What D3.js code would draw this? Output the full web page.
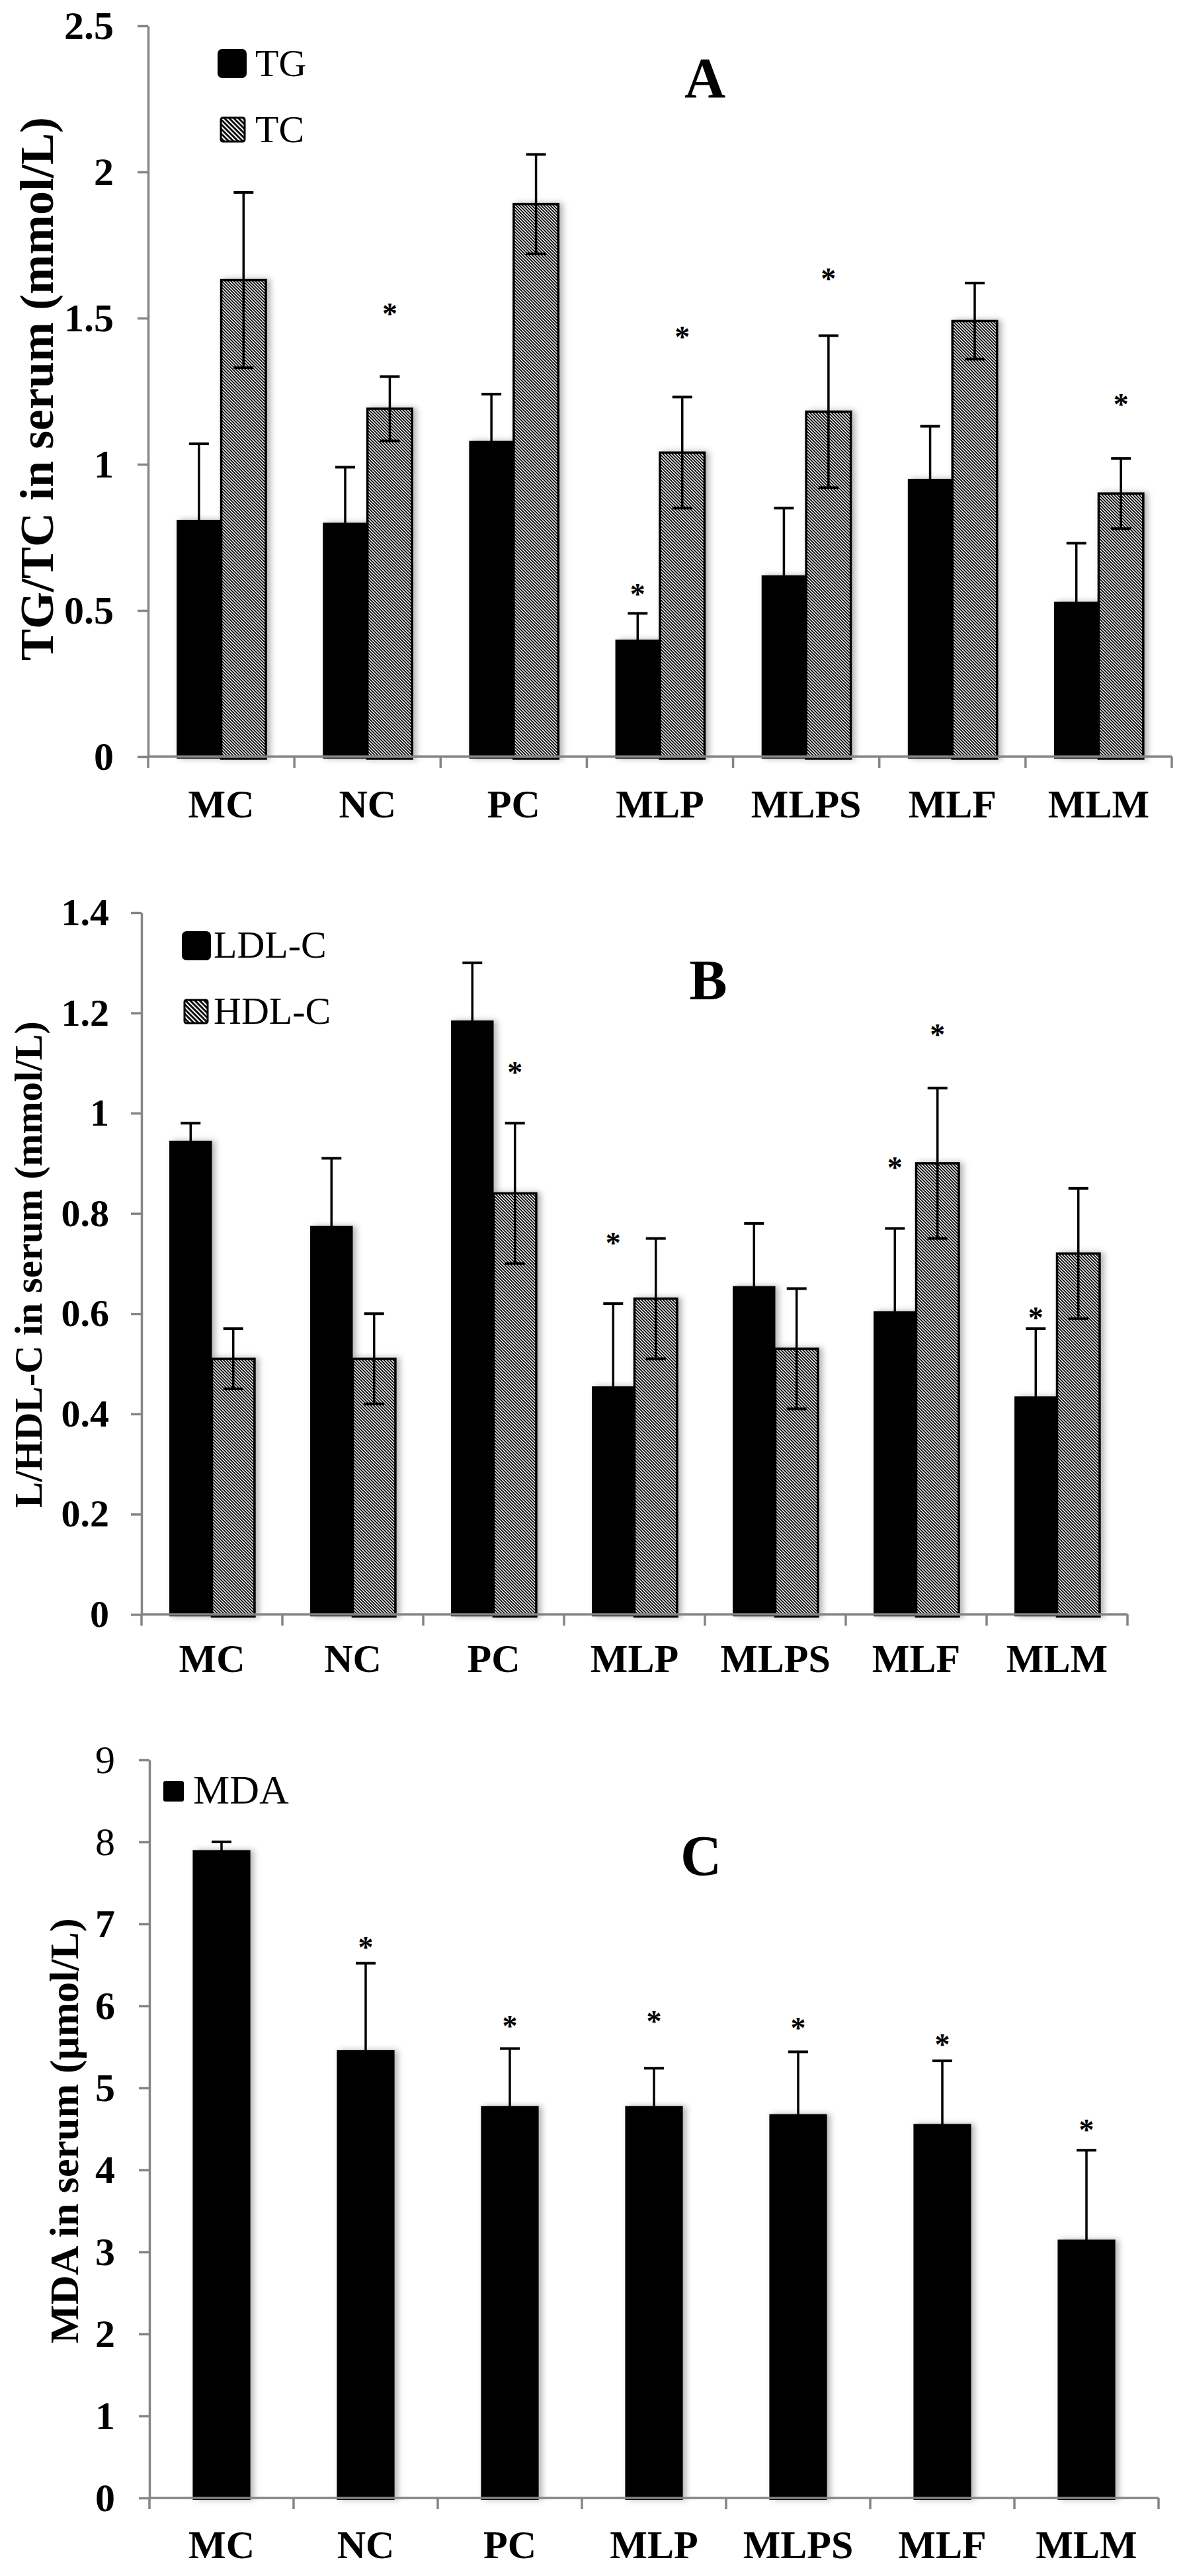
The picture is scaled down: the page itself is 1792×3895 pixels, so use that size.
<!DOCTYPE html>
<html>
<head>
<meta charset="utf-8">
<script src="https://cdn.jsdelivr.net/npm/d3@7"></script>
<style>
  body { margin: 0; background: #fff; }
  svg { display: block; }
</style>
</head>
<body>
<div id="container"></div>
<script>
/* DATA */
const categories = ["MC", "NC", "PC", "MLP", "MLPS", "MLF", "MLM"];

// panel A
const tgMean = [0.81, 0.80, 1.08, 0.40, 0.62, 0.95, 0.53];
const tgSd = [0.26, 0.19, 0.16, 0.09, 0.23, 0.18, 0.20];
const tcMean = [1.63, 1.19, 1.89, 1.04, 1.18, 1.49, 0.90];
const tcSd = [0.30, 0.11, 0.17, 0.19, 0.26, 0.13, 0.12];
const tgStar = [null, null, null, 0.57, null, null, null];
const tcStar = [null, 1.53, null, 1.45, 1.65, null, 1.22];
const ticksA = [0, 0.5, 1, 1.5, 2, 2.5];

// panel B
const ldlMean = [0.945, 0.775, 1.185, 0.455, 0.655, 0.605, 0.435];
const ldlSd = [0.035, 0.135, 0.115, 0.165, 0.125, 0.165, 0.135];
const hdlMean = [0.51, 0.51, 0.84, 0.63, 0.53, 0.90, 0.72];
const hdlSd = [0.06, 0.09, 0.14, 0.12, 0.12, 0.15, 0.13];
const ldlStar = [null, null, null, 0.75, null, 0.90, 0.60];
const hdlStar = [null, null, 1.09, null, null, 1.165, null];
const ticksB = [0, 0.2, 0.4, 0.6, 0.8, 1, 1.2, 1.4];

// panel C
const mdaMean = [7.90, 5.46, 4.78, 4.78, 4.68, 4.56, 3.15];
const mdaSd = [0.10, 1.06, 0.70, 0.46, 0.76, 0.77, 1.09];
const mdaStar = [null, 6.77, 5.81, 5.86, 5.78, 5.58, 4.54];
const ticksC = [0, 1, 2, 3, 4, 5, 6, 7, 8, 9];

/* CONSTANTS */
const width = 1792, height = 3895;
const FONT = "'Liberation Serif', 'Times New Roman', serif";
const AXIS_GREY = "#858585";

const svg = d3.select("#container")
  .append("svg")
  .attr("width", width)
  .attr("height", height);

svg.append("rect").attr("width", width).attr("height", height).attr("fill", "#fff");

const defs = svg.append("defs");

// hatch used inside bars
function hatch(id, size, stripe) {
  const p = defs.append("pattern")
    .attr("id", id)
    .attr("patternUnits", "userSpaceOnUse")
    .attr("width", size)
    .attr("height", size)
    .attr("patternTransform", "rotate(-45)");
  p.append("rect").attr("width", size).attr("height", size).attr("fill", "#000");
  p.append("rect").attr("width", stripe).attr("height", size).attr("fill", "#fff");
}
hatch("hatchBar", 3.3, 1.5);
hatch("hatchKey", 5, 2.2);

defs.append("filter")
  .attr("id", "shadow")
  .attr("x", "-20%").attr("y", "-5%").attr("width", "150%").attr("height", "110%")
  .append("feDropShadow")
  .attr("dx", 5).attr("dy", 0).attr("stdDeviation", 5)
  .attr("flood-color", "#000").attr("flood-opacity", 0.3);

// DRAW ONE PANEL
function drawPanel(p) {
  const g = svg.append("g");

  const y = d3.scaleLinear().domain([0, p.max]).range([p.y0, p.yTop]);
  const x = d3.scaleBand().domain(categories).range([p.x0, p.x1]).padding(0);
  const names = p.series.map(s => s.name);
  const groupW = x.bandwidth() * p.groupFrac;
  const xs = d3.scaleBand().domain(names).range([-groupW / 2, groupW / 2]).padding(0);

  // bars
  p.series.forEach(s => {
    const rows = categories.map((c, i) => ({ c, v: s.mean[i], sd: s.sd[i], star: s.star[i] }));
    const cx = d => x(d.c) + x.bandwidth() / 2 + xs(s.name);

    g.selectAll(null)
      .data(rows)
      .join("rect")
      .attr("x", d => cx(d))
      .attr("y", d => y(d.v))
      .attr("width", xs.bandwidth())
      .attr("height", d => y(0) - y(d.v) + 3)
      .attr("fill", s.hatched ? "url(#hatchBar)" : "#000")
      .attr("stroke", s.hatched ? "#000" : "none")
      .attr("stroke-width", 3.5)
      .attr("filter", "url(#shadow)");

    // error bars
    const eb = g.selectAll(null)
      .data(rows)
      .join("g")
      .attr("transform", d => `translate(${cx(d) + xs.bandwidth() / 2},0)`);
    eb.append("line")
      .attr("y1", d => y(d.v - d.sd)).attr("y2", d => y(d.v + d.sd))
      .attr("stroke", "#000").attr("stroke-width", 3.5);
    eb.selectAll("line.cap")
      .data(d => [d.v - d.sd, d.v + d.sd])
      .join("line")
      .attr("class", "cap")
      .attr("x1", -15).attr("x2", 15)
      .attr("y1", v => y(v)).attr("y2", v => y(v))
      .attr("stroke", "#000").attr("stroke-width", 4);

    // significance stars
    g.selectAll(null)
      .data(rows.filter(d => d.star != null))
      .join("text")
      .attr("x", d => cx(d) + xs.bandwidth() / 2)
      .attr("y", d => y(d.star) + 22)
      .attr("text-anchor", "middle")
      .style("font-family", FONT)
      .style("font-size", "46px")
      .style("font-weight", "bold")
      .text("*");
  });

  // y axis
  const yAxis = g.append("g")
    .attr("transform", `translate(${p.x0},0)`)
    .call(d3.axisLeft(y).tickValues(p.ticks).tickSize(16).tickSizeOuter(0)
      .tickPadding(p.tickPad).tickFormat(d => String(d)));
  yAxis.selectAll("path, line").attr("stroke", AXIS_GREY).attr("stroke-width", 3.5);
  yAxis.selectAll("text")
    .attr("fill", "#000")
    .style("font-family", FONT)
    .style("font-size", p.tickFont + "px")
    .style("font-weight", d => (p.lightTicks || []).includes(d) ? "normal" : "bold");

  // x axis
  g.append("line")
    .attr("x1", p.x0).attr("x2", p.x1)
    .attr("y1", y(0)).attr("y2", y(0))
    .attr("stroke", AXIS_GREY).attr("stroke-width", 3.5);
  const bounds = categories.map(c => x(c)).concat([x(categories[categories.length - 1]) + x.bandwidth()]);
  g.selectAll(null)
    .data(bounds)
    .join("line")
    .attr("x1", d => d).attr("x2", d => d)
    .attr("y1", y(0)).attr("y2", y(0) + 17)
    .attr("stroke", AXIS_GREY).attr("stroke-width", 3.5);
  g.selectAll(null)
    .data(categories)
    .join("text")
    .attr("x", d => x(d) + x.bandwidth() / 2)
    .attr("y", p.labelBase)
    .attr("text-anchor", "middle")
    .style("font-family", FONT)
    .style("font-size", "60px")
    .style("font-weight", "bold")
    .text(d => d);

  // y title
  g.append("text")
    .attr("transform", `translate(${p.titleX},${p.titleY}) rotate(-90)`)
    .attr("text-anchor", "middle")
    .style("font-family", FONT)
    .style("font-size", p.titleFont + "px")
    .style("font-weight", "bold")
    .text(p.title);

  // panel letter
  g.append("text")
    .attr("x", p.letterX).attr("y", p.letterY)
    .attr("text-anchor", "middle")
    .style("font-family", FONT)
    .style("font-size", "86px")
    .style("font-weight", "bold")
    .text(p.letter);

  // legend
  p.legend.forEach(l => {
    g.append("rect")
      .attr("x", l.x).attr("y", l.y)
      .attr("width", l.size).attr("height", l.size)
      .attr("rx", l.size > 40 ? 7 : 3)
      .attr("fill", l.hatched ? "url(#hatchKey)" : "#000")
      .attr("stroke", "#000").attr("stroke-width", l.hatched ? 3 : 0);
    g.append("text")
      .attr("x", l.tx).attr("y", l.ty)
      .style("font-family", FONT)
      .style("font-size", l.font + "px")
      .text(l.text);
  });
}

drawPanel({
  x0: 224, x1: 1772, y0: 1144, yTop: 39, max: 2.5, ticks: ticksA,
  tickPad: 36, tickFont: 60, groupFrac: 0.61, labelBase: 1236,
  series: [
    { name: "TG", mean: tgMean, sd: tgSd, star: tgStar, hatched: false },
    { name: "TC", mean: tcMean, sd: tcSd, star: tcStar, hatched: true }
  ],
  title: "TG/TC in serum (mmol/L)", titleX: 80, titleY: 588, titleFont: 72,
  letter: "A", letterX: 1066, letterY: 147,
  legend: [
    { x: 329, y: 74, size: 44, hatched: false, text: "TG", tx: 386, ty: 115, font: 58 },
    { x: 334, y: 178, size: 36, hatched: true, text: "TC", tx: 386, ty: 215, font: 58 }
  ]
});

drawPanel({
  x0: 214, x1: 1705, y0: 2441, yTop: 1380, max: 1.4, ticks: ticksB,
  tickPad: 33, tickFont: 58, groupFrac: 0.605, labelBase: 2528,
  series: [
    { name: "LDL-C", mean: ldlMean, sd: ldlSd, star: ldlStar, hatched: false },
    { name: "HDL-C", mean: hdlMean, sd: hdlSd, star: hdlStar, hatched: true }
  ],
  title: "L/HDL-C in serum (mmol/L)", titleX: 63, titleY: 1912, titleFont: 59,
  letter: "B", letterX: 1071, letterY: 1511,
  legend: [
    { x: 275, y: 1408, size: 44, hatched: false, text: "LDL-C", tx: 323, ty: 1448, font: 58 },
    { x: 279, y: 1512, size: 35, hatched: true, text: "HDL-C", tx: 323, ty: 1548, font: 58 }
  ]
});

drawPanel({
  x0: 226, x1: 1752, y0: 3777, yTop: 2661, max: 9, ticks: ticksC,
  tickPad: 36, tickFont: 60, groupFrac: 0.40, labelBase: 3868, lightTicks: [8, 9],
  series: [
    { name: "MDA", mean: mdaMean, sd: mdaSd, star: mdaStar, hatched: false }
  ],
  title: "MDA in serum (\u03bcmol/L)", titleX: 118, titleY: 3222, titleFont: 62,
  letter: "C", letterX: 1060, letterY: 2835,
  legend: [
    { x: 247, y: 2693, size: 31, hatched: false, text: "MDA", tx: 292, ty: 2727, font: 62 }
  ]
});
</script>
</body>
</html>
